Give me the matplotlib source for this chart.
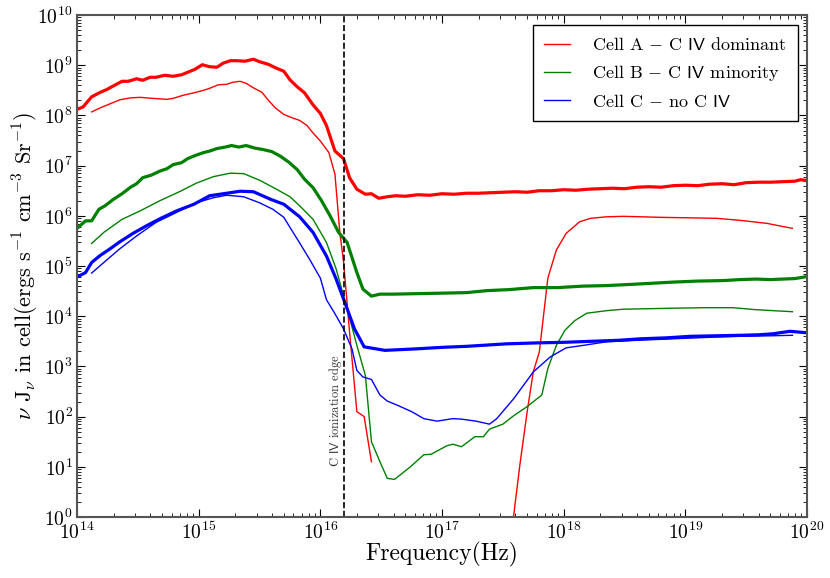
import matplotlib
matplotlib.use("Agg")
import matplotlib.pyplot as plt
from matplotlib.ticker import LogLocator
import numpy as np

plt.rcParams['font.family'] = 'serif'
plt.rcParams['font.serif'] = ['cmr10', 'DejaVu Serif']
plt.rcParams['mathtext.fontset'] = 'cm'
plt.rcParams['axes.formatter.use_mathtext'] = True

# log10(frequency), log10(nu J_nu)
# Cell A - thick (total) and thin (C IV) curves
a_thick_lf = [14.0, 14.05, 14.12, 14.19, 14.24, 14.30, 14.37, 14.42, 14.49, 14.54, 14.60, 14.65,
              14.72, 14.79, 14.86, 14.91, 14.97, 15.03, 15.09, 15.15, 15.20, 15.26, 15.31, 15.38,
              15.45, 15.50, 15.57, 15.64, 15.70, 15.75, 15.81, 15.87, 15.94, 16.0, 16.05, 16.12,
              16.19, 16.24, 16.30, 16.37, 16.42, 16.48, 16.55, 16.62, 16.70, 16.80, 16.90, 17.0,
              17.1, 17.2, 17.3, 17.4, 17.5, 17.6, 17.7, 17.8, 17.9, 18.0, 18.1, 18.2, 18.3, 18.4,
              18.5, 18.6, 18.7, 18.8, 18.9, 19.0, 19.1, 19.2, 19.3, 19.4, 19.5, 19.6, 19.7, 19.8,
              19.9, 19.95, 20.0]
a_thick_lj = [8.12, 8.17, 8.37, 8.46, 8.51, 8.59, 8.68, 8.68, 8.73, 8.70, 8.76, 8.76,
              8.80, 8.78, 8.81, 8.86, 8.92, 9.01, 8.97, 8.96, 9.04, 9.09, 9.09, 9.08,
              9.12, 9.07, 9.02, 8.94, 8.88, 8.71, 8.57, 8.45, 8.21, 8.04, 7.80, 7.29,
              7.14, 6.76, 6.53, 6.43, 6.44, 6.35, 6.38, 6.40, 6.39, 6.42, 6.41, 6.44,
              6.43, 6.45, 6.45, 6.46, 6.47, 6.48, 6.47, 6.50, 6.50, 6.52, 6.51, 6.53, 6.54, 6.55,
              6.54, 6.57, 6.58, 6.57, 6.60, 6.61, 6.60, 6.63, 6.64, 6.62, 6.66, 6.67, 6.67, 6.68,
              6.69, 6.72, 6.70]

a_thin_lf = [14.12, 14.19, 14.27, 14.35, 14.44, 14.52, 14.62, 14.74, 14.79, 14.87, 14.96, 15.04,
             15.09, 15.16, 15.23, 15.28, 15.34, 15.39, 15.45, 15.52, 15.57, 15.63, 15.70, 15.76,
             15.83, 15.89, 15.94, 16.0, 16.07, 16.12, 16.16, 16.19, 16.24, 16.30, 16.36, 16.42]
a_thin_lj = [8.07, 8.15, 8.23, 8.31, 8.35, 8.36, 8.34, 8.32, 8.34, 8.40, 8.45, 8.50,
             8.54, 8.61, 8.62, 8.66, 8.68, 8.64, 8.55, 8.46, 8.31, 8.15, 8.02, 7.96,
             7.90, 7.80, 7.65, 7.49, 7.26, 6.83, 5.67, 5.10, 3.69, 2.10, 2.00, 1.10]
a_hard_lf = [17.55, 17.59, 17.64, 17.70, 17.75, 17.80, 17.87, 17.94, 18.02, 18.13, 18.22, 18.35,
             18.49, 18.65, 18.79, 19.04, 19.26, 19.45, 19.67, 19.88]
a_hard_lj = [-0.8, 0.05, 1.04, 2.10, 2.89, 3.29, 4.76, 5.32, 5.65, 5.88, 5.95, 5.98,
             5.99, 5.98, 5.97, 5.96, 5.95, 5.91, 5.85, 5.75]

# Cell B
b_thick_lf = [14.0, 14.07, 14.12, 14.18, 14.23, 14.30, 14.37, 14.44, 14.49, 14.54, 14.61, 14.68,
              14.74, 14.79, 14.86, 14.91, 14.97, 15.04, 15.09, 15.15, 15.22, 15.27, 15.33, 15.39,
              15.46, 15.53, 15.60, 15.67, 15.74, 15.81, 15.87, 15.94, 16.01, 16.08, 16.15, 16.22,
              16.30, 16.35, 16.42, 16.49, 16.6, 16.8, 17.01, 17.2, 17.37, 17.55, 17.75, 17.95,
              18.16, 18.35, 18.6, 18.9, 19.1, 19.31, 19.45, 19.58, 19.7, 19.8, 19.9, 20.0]
b_thick_lj = [5.75, 5.90, 5.90, 6.13, 6.20, 6.33, 6.44, 6.57, 6.64, 6.76, 6.81, 6.89,
              6.94, 7.02, 7.06, 7.14, 7.20, 7.26, 7.29, 7.34, 7.37, 7.40, 7.37, 7.40,
              7.35, 7.32, 7.28, 7.19, 7.07, 6.92, 6.73, 6.56, 6.30, 6.00, 5.67, 5.47,
              4.87, 4.54, 4.40, 4.44, 4.44, 4.45, 4.46, 4.47, 4.51, 4.53, 4.57, 4.57,
              4.60, 4.61, 4.64, 4.68, 4.70, 4.71, 4.73, 4.74, 4.73, 4.74, 4.75, 4.79]

b_thin_lf = [14.12, 14.22, 14.37, 14.52, 14.68, 14.85, 14.98, 15.12, 15.26, 15.37, 15.50, 15.64,
             15.75, 15.83, 15.94, 16.05, 16.13, 16.22, 16.30, 16.37, 16.42, 16.49, 16.55, 16.61,
             16.74, 16.85, 16.91, 17.04, 17.09, 17.16, 17.27, 17.34, 17.39, 17.50, 17.59, 17.70,
             17.82, 17.87, 17.94, 18.01, 18.09, 18.19, 18.35, 18.49, 18.70, 18.90, 19.17, 19.39,
             19.58, 19.88]
b_thin_lj = [5.45, 5.67, 5.93, 6.10, 6.30, 6.49, 6.65, 6.78, 6.85, 6.84, 6.71, 6.53,
             6.38, 6.20, 5.93, 5.47, 4.94, 4.15, 3.42, 2.82, 1.50, 1.10, 0.77, 0.75,
             1.00, 1.24, 1.25, 1.42, 1.45, 1.40, 1.60, 1.60, 1.75, 1.85, 2.02, 2.20,
             2.43, 2.96, 3.42, 3.72, 3.91, 4.06, 4.11, 4.14, 4.15, 4.16, 4.17, 4.17,
             4.13, 4.09]

# Cell C
c_thick_lf = [14.0, 14.07, 14.12, 14.19, 14.27, 14.35, 14.46, 14.57, 14.68, 14.82, 14.96, 15.09,
              15.23, 15.34, 15.45, 15.59, 15.70, 15.83, 15.94, 16.05, 16.13, 16.22, 16.28, 16.36,
              16.53, 16.79, 17.0, 17.20, 17.53, 17.80, 18.0, 18.22, 18.45, 18.63, 18.85, 19.04,
              19.25, 19.45, 19.60, 19.72, 19.86, 20.0]
c_thick_lj = [4.78, 4.87, 5.07, 5.21, 5.34, 5.48, 5.65, 5.80, 5.94, 6.10, 6.23, 6.40,
              6.45, 6.49, 6.48, 6.33, 6.23, 5.98, 5.67, 5.20, 4.74, 4.15, 3.75, 3.39,
              3.32, 3.35, 3.38, 3.40, 3.45, 3.47, 3.48, 3.50, 3.52, 3.55, 3.57, 3.60,
              3.61, 3.62, 3.63, 3.65, 3.70, 3.67]

c_thin_lf = [14.12, 14.22, 14.35, 14.49, 14.65, 14.82, 14.98, 15.12, 15.23, 15.37, 15.50, 15.61,
             15.70, 15.75, 15.83, 15.91, 16.0, 16.05, 16.12, 16.19, 16.26, 16.30, 16.35, 16.42,
             16.49, 16.55, 16.63, 16.75, 16.85, 16.96, 17.09, 17.16, 17.28, 17.39, 17.45, 17.59,
             17.75, 17.89, 18.02, 18.19, 18.35, 18.60, 18.90, 19.20, 19.45, 19.70, 19.88]
c_thin_lj = [4.86, 5.07, 5.34, 5.60, 5.87, 6.07, 6.26, 6.36, 6.41, 6.38, 6.26, 6.13,
             5.97, 5.77, 5.46, 5.14, 4.76, 4.33, 4.05, 3.75, 3.35, 2.92, 2.79, 2.74,
             2.43, 2.31, 2.23, 2.10, 1.96, 1.91, 1.96, 1.95, 1.91, 1.85, 1.96, 2.36,
             2.89, 3.19, 3.37, 3.43, 3.49, 3.52, 3.55, 3.58, 3.60, 3.61, 3.62]

edge_freq = 1.55e16

labels = [r'Cell A $-$ C $\mathsf{IV}$ dominant',
          r'Cell B $-$ C $\mathsf{IV}$ minority',
          r'Cell C $-$ no C $\mathsf{IV}$']

fig = plt.figure(figsize=(8.3, 5.78), dpi=100)
ax = fig.add_axes([0.0928, 0.1055, 0.8795, 0.8685])

def p(lf, lj):
    return 10.0 ** np.array(lf), 10.0 ** np.array(lj)

thick, thin = 2.3, 1.0
ax.plot(*p(a_thick_lf, a_thick_lj), color='r', lw=thick)
ax.plot(*p(a_thin_lf, a_thin_lj), color='r', lw=thin, label=labels[0])
ax.plot(*p(a_hard_lf, a_hard_lj), color='r', lw=thin)
ax.plot(*p(b_thick_lf, b_thick_lj), color='g', lw=thick)
ax.plot(*p(b_thin_lf, b_thin_lj), color='g', lw=thin, label=labels[1])
ax.plot(*p(c_thick_lf, c_thick_lj), color='b', lw=thick)
ax.plot(*p(c_thin_lf, c_thin_lj), color='b', lw=thin, label=labels[2])

ax.axvline(edge_freq, color='k', ls='--', lw=1.2)
ax.text(edge_freq / 1.17, 10, r'C $\mathsf{IV}$ ionization edge', rotation=90,
        ha='center', va='bottom', fontsize=9, color='#333333')

ax.set_xscale('log')
ax.set_yscale('log')
ax.set_xlim(1e14, 1e20)
ax.set_ylim(1, 1e10)
ax.yaxis.set_major_locator(LogLocator(base=10, numticks=15))
ax.yaxis.set_minor_locator(LogLocator(base=10, subs=np.arange(2, 10), numticks=15))

ax.set_xlabel('Frequency(Hz)', fontsize=17)
ax.set_ylabel(r'$\nu$ J$_\nu$ in cell(ergs s$^{-1}$ cm$^{-3}$ Sr$^{-1}$)', fontsize=16)
ax.xaxis.set_label_coords(0.5, -0.05)
ax.yaxis.set_label_coords(-0.049, 0.5)

ax.tick_params(which='both', direction='in', top=True, right=True, labelsize=14)
ax.tick_params(axis='y', pad=3)
ax.tick_params(axis='x', pad=3)
ax.tick_params(which='major', length=6)
ax.tick_params(which='minor', length=3)
for spine in ax.spines.values():
    spine.set_color('#555555')
    spine.set_linewidth(1.5)

leg = ax.legend(loc='upper right', bbox_to_anchor=(0.987, 0.98), borderaxespad=0,
                fontsize=13, fancybox=False, framealpha=1, edgecolor='black',
                handlelength=1.45, handletextpad=1.2, labelspacing=0.55, borderpad=0.6)
leg.get_frame().set_linewidth(1.0)

plt.savefig('out.png', dpi=100)
